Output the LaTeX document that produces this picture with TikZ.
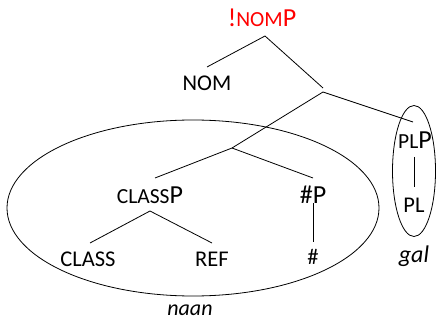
\documentclass[tikz,border=0pt]{standalone}
\usepackage{fontspec}
\setmainfont{Carlito}
\usetikzlibrary{shapes.geometric}
\begin{document}
\begin{tikzpicture}[x=1pt,y=-1pt,
  lbl/.style={inner sep=0pt, font=\fontsize{22.5}{26}\selectfont},
  big/.style={inner sep=0pt, font=\fontsize{26}{30}\selectfont},
  ital/.style={inner sep=0pt, font=\fontsize{22}{26}\selectfont\itshape},
  edge/.style={draw=black, line width=0.8pt},
  ring/.style={draw=black, line width=0.8pt}]
\useasboundingbox (0,0) rectangle (436,323);
\newcommand{\sml}[1]{{\fontsize{21.5}{24}\selectfont #1}}
% labels
\node[big, text=red] (nomp) at (262,18) {!\sml{NOM}P};
\node[lbl] (nom) at (207,83) {NOM};
\node[big] (classp) at (150,195) {\sml{CLASS}P};
\node[lbl] (class) at (88,259) {CLASS};
\node[lbl] (ref) at (212,259) {REF};
\node[big] (hashp) at (313,195) {\#P};
\node[lbl] (hash) at (313,257) {\#};
\node[big] (plp) at (415,140) {\sml{PL}P};
\node[lbl] (pl) at (414,205) {PL};
\node[ital] (naan) at (190,310) {naan};
\node[ital, font=\fontsize{24}{28}\selectfont\itshape] (gal) at (414,256) {gal};
% ellipses
\node[ring, ellipse, minimum width=372pt, minimum height=176pt, inner sep=0pt] (bigring) at (193,208) {};
\node[ring, ellipse, minimum width=43pt, minimum height=131pt, inner sep=0pt] (smallring) at (414,171) {};
% tree coordinates
\coordinate (a0) at (265,36);
\coordinate (nomT) at (207,67);
\coordinate (j1a) at (323,88);
\coordinate (j1) at (323,92);
\coordinate (plpT) at (413,122);
\coordinate (j2) at (232,148);
\coordinate (classpT) at (155,178);
\coordinate (hashpT) at (313,178);
\coordinate (classpB) at (150,211);
\coordinate (classT) at (90,243);
\coordinate (refT) at (212,243);
\coordinate (hashpB) at (313,203);
\coordinate (hashT) at (313,242);
\coordinate (plpB) at (414,157);
\coordinate (plT) at (414,187);
% edges
\draw[edge] (nomT) -- (a0) -- (j1a);
\draw[edge] (j2) -- (j1) -- (plpT);
\draw[edge] (classpT) -- (j2) -- (hashpT);
\draw[edge] (classT) -- (classpB) -- (refT);
\draw[edge] (hashpB) -- (hashT);
\draw[edge] (plpB) -- (plT);
\end{tikzpicture}
\end{document}
